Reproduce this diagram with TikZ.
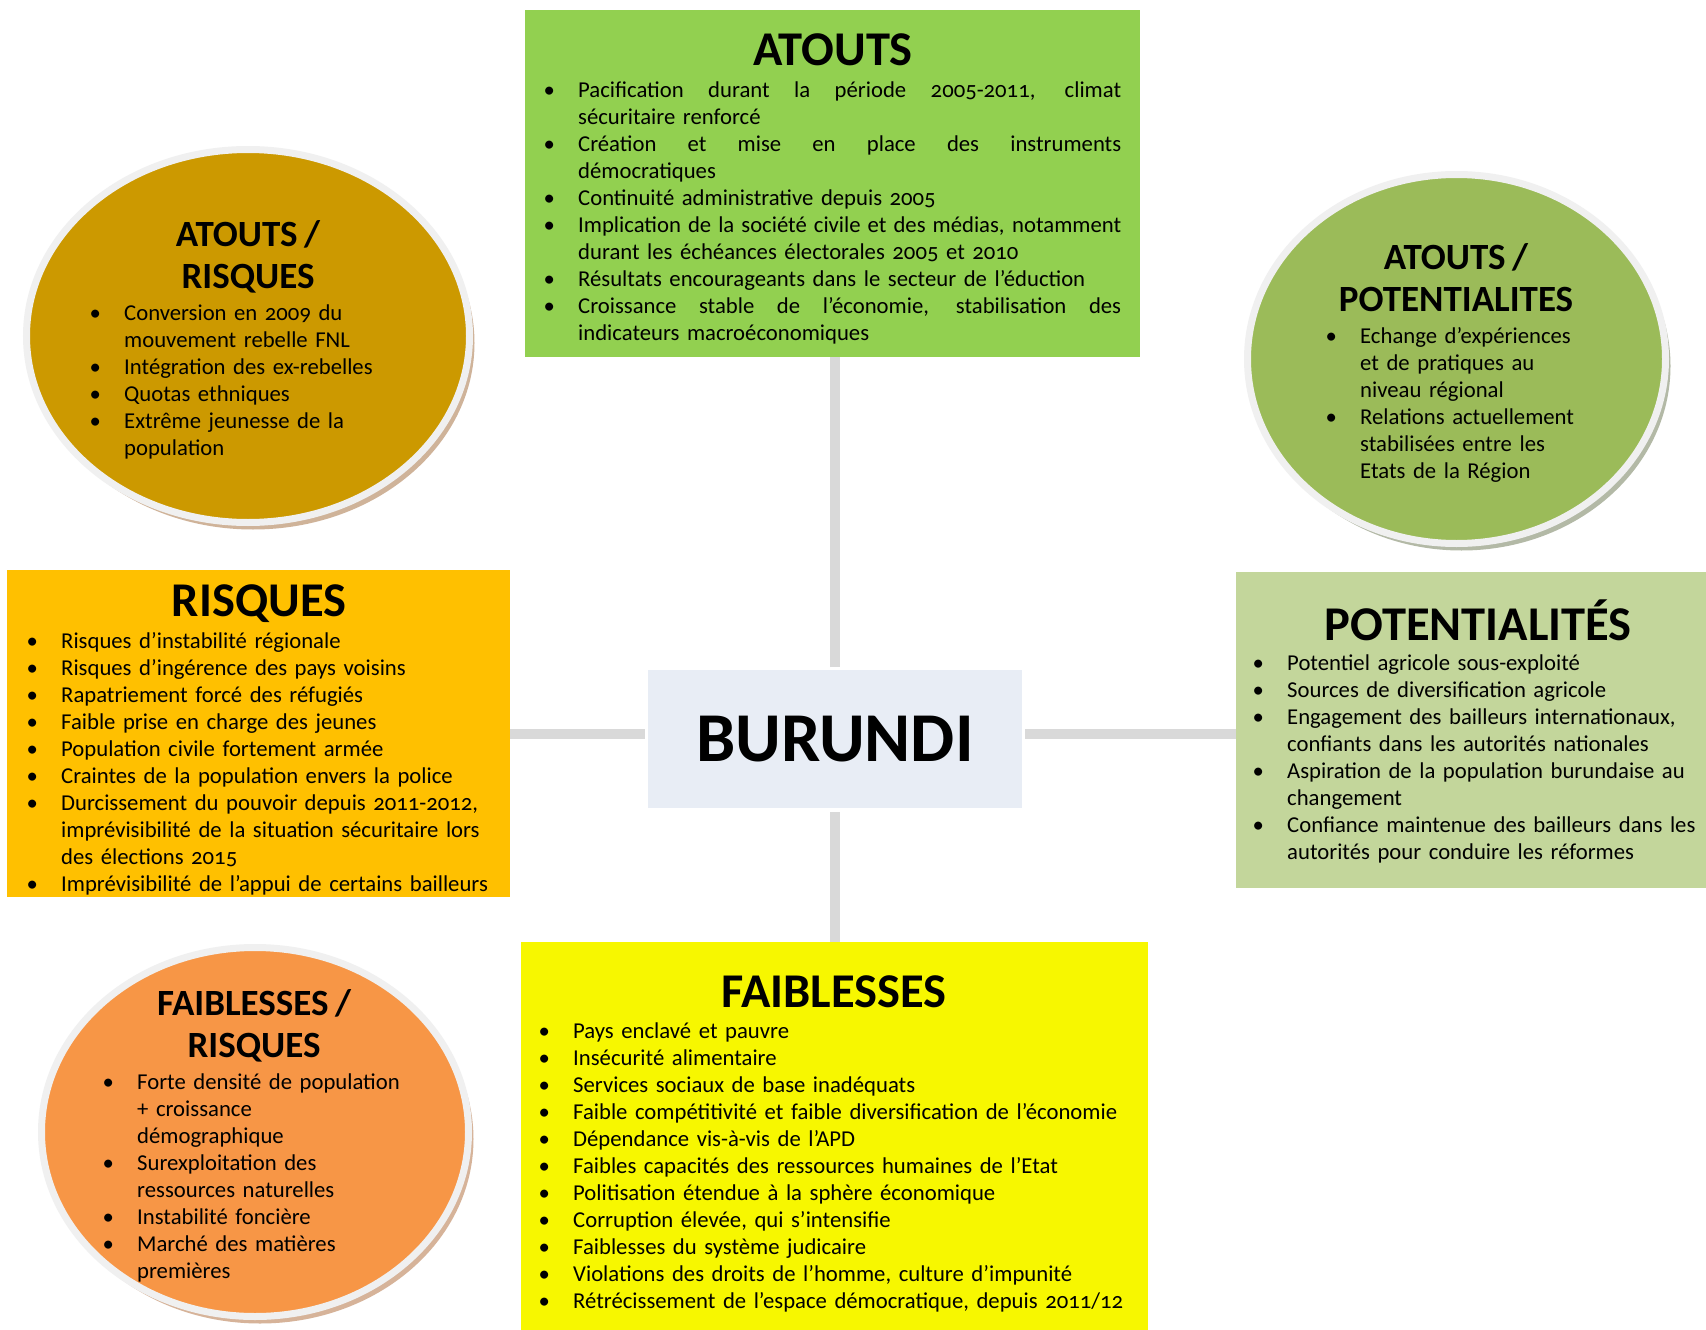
\documentclass[tikz,border=0pt]{standalone}
\usepackage{fontspec}
\setmainfont{Carlito}[Numbers=OldStyle]
\usetikzlibrary{shapes.geometric,shadows}
\definecolor{cAtouts}{HTML}{92D050}
\definecolor{cRisq}{HTML}{FFC000}
\definecolor{cPot}{HTML}{C3D69B}
\definecolor{cFaib}{HTML}{F7F700}
\definecolor{cBur}{HTML}{E8EDF5}
\definecolor{cConn}{HTML}{D9D9D9}
\definecolor{cEa}{HTML}{CC9900}
\definecolor{cEb}{HTML}{9BBB59}
\definecolor{cEc}{HTML}{F79646}
\definecolor{cRing}{HTML}{F0F0F0}
\definecolor{cSha}{HTML}{C4A080}
\definecolor{cShb}{HTML}{A0A890}
\definecolor{cShc}{HTML}{CCA080}
\newcommand\bulfirst{\noindent\llap{\makebox[29pt][l]{\makebox[0pt]{\textbullet}}}}
\newcommand\bul{\par\bulfirst}
\newcommand\jl[1]{\makebox[543pt][s]{\spaceskip=0pt\xspaceskip=0pt #1}}
\tikzset{
  panel/.style={rectangle, inner sep=0pt, outer sep=0pt},
  conn/.style={draw=cConn, line width=10pt},
  htitle/.style={font=\fontsize{48.5}{52}\selectfont\bfseries, anchor=base, inner sep=0pt},
  etitle/.style={font=\fontsize{37}{42}\selectfont\bfseries, anchor=base, inner sep=0pt, text width=400pt},
  blist/.style={font=\fontsize{22.7}{27}\selectfont, anchor=base west, inner sep=0pt, text width=620pt},
  bubble/.style={ellipse, inner sep=0pt, outer sep=0pt, draw=cRing, line width=7pt},
}
\begin{document}
\begin{tikzpicture}[x=1pt,y=-1pt]
\useasboundingbox[fill=white] (0,0) rectangle (1706,1330);

% panels
\node[panel, fill=cAtouts, minimum width=615pt, minimum height=347pt] (atouts) at (832.5,183.5) {};
\node[panel, fill=cRisq, minimum width=503pt, minimum height=327pt] (risques) at (258.5,733.5) {};
\node[panel, fill=cPot, minimum width=470pt, minimum height=316pt] (potent) at (1471,730) {};
\node[panel, fill=cFaib, minimum width=627pt, minimum height=388pt] (faib) at (834.5,1136) {};
\node[panel, fill=cBur, minimum width=374pt, minimum height=138pt,
      font=\fontsize{70}{72}\selectfont\bfseries] (burundi) at (835,739) {BURUNDI};

% connectors
\draw[conn, shorten <=3pt] (burundi.north) -- (burundi.north |- atouts.south);
\draw[conn, shorten <=4pt] (burundi.south) -- (burundi.south |- faib.north);
\draw[conn, shorten >=3pt] (risques.east) -- (risques.east -| burundi.west);
\draw[conn, shorten <=3pt] (risques.east -| burundi.east) -- (risques.east -| potent.west);

% bubbles
\node[bubble, fill=cEa, minimum width=443pt, minimum height=373pt,
      drop shadow={shadow xshift=5pt, shadow yshift=-7pt, fill=cSha, opacity=0.8}] (ea) at (248,336) {};
\node[bubble, fill=cEb, minimum width=418pt, minimum height=369pt,
      drop shadow={shadow xshift=5pt, shadow yshift=-7pt, fill=cShb, opacity=0.8}] (eb) at (1456.5,359) {};
\node[bubble, fill=cEc, minimum width=427pt, minimum height=369pt,
      drop shadow={shadow xshift=5pt, shadow yshift=-7pt, fill=cShc, opacity=0.8}] (ec) at (255,1132) {};

% titles
\node[htitle] (tAtouts) at (833,66) {ATOUTS};
\node[htitle] (tRisq) at (259,616) {RISQUES};
\node[htitle] (tPot) at (1478,640) {POTENTIALITÉS};
\node[htitle] (tFaib) at (834,1007) {FAIBLESSES};
\node[etitle] (tEa) at (248,246) {\centering ATOUTS\kern6.5pt/\\RISQUES\par};
\node[etitle] (tEb) at (1456,269) {\centering ATOUTS\kern6.5pt/\\POTENTIALITES\par};
\node[etitle] (tEc) at (254,1015) {\centering FAIBLESSES\kern6.5pt/\\RISQUES\par};

% lists
\node[blist] (lAtouts) at (578,98) {%
\bulfirst\jl{Pacification durant la période 2005-2011, climat}\\sécuritaire renforcé
\bul\jl{Création et mise en place des instruments}\\démocratiques
\bul Continuité administrative depuis 2005
\bul\jl{Implication de la société civile et des médias, notamment}\\durant les échéances électorales 2005 et 2010
\bul Résultats encourageants dans le secteur de l’éduction
\bul\jl{Croissance stable de l’économie, stabilisation des}\\indicateurs macroéconomiques\par};

\node[blist] (lRisq) at (61,648) {%
\bulfirst Risques d’instabilité régionale
\bul Risques d’ingérence des pays voisins
\bul Rapatriement forcé des réfugiés
\bul Faible prise en charge des jeunes
\bul Population civile fortement armée
\bul Craintes de la population envers la police
\bul Durcissement du pouvoir depuis 2011-2012,\\imprévisibilité de la situation sécuritaire lors\\des élections 2015
\bul Imprévisibilité de l’appui de certains bailleurs\par};

\node[blist] (lPot) at (1287,670) {%
\bulfirst Potentiel agricole sous-exploité
\bul Sources de diversification agricole
\bul Engagement des bailleurs internationaux,\\confiants dans les autorités nationales
\bul Aspiration de la population burundaise au\\changement
\bul Confiance maintenue des bailleurs dans les\\autorités pour conduire les réformes\par};

\node[blist] (lFaib) at (573,1038) {%
\bulfirst Pays enclavé et pauvre
\bul Insécurité alimentaire
\bul Services sociaux de base inadéquats
\bul Faible compétitivité et faible diversification de l’économie
\bul Dépendance vis-à-vis de l’APD
\bul Faibles capacités des ressources humaines de l’Etat
\bul Politisation étendue à la sphère économique
\bul Corruption élevée, qui s’intensifie
\bul Faiblesses du système judicaire
\bul Violations des droits de l’homme, culture d’impunité
\bul Rétrécissement de l’espace démocratique, depuis 2011/12\par};

\node[blist] (lEa) at (124,320) {%
\bulfirst Conversion en 2009 du\\mouvement rebelle FNL
\bul Intégration des ex-rebelles
\bul Quotas ethniques
\bul Extrême jeunesse de la\\population\par};

\node[blist] (lEb) at (1360,343) {%
\bulfirst Echange d’expériences\\et de pratiques au\\niveau régional
\bul Relations actuellement\\stabilisées entre les\\Etats de la Région\par};

\node[blist] (lEc) at (137,1089) {%
\bulfirst Forte densité de population\\+ croissance\\démographique
\bul Surexploitation des\\ressources naturelles
\bul Instabilité foncière
\bul Marché des matières\\premières\par};
\end{tikzpicture}
\end{document}
